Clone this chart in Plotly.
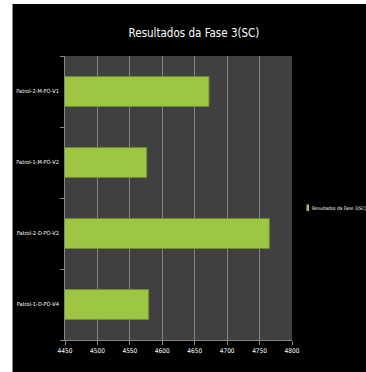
import plotly.graph_objects as go

categories = ["Patrol-1-D-PO-V4", "Patrol-2-D-PO-V2", "Patrol-1-M-PO-V2", "Patrol-2-M-PO-V1"]
values = [4579, 4765, 4576, 4672]
series_name = "Resultados da Fase 3(SC)"
x_ticks = [4450, 4500, 4550, 4600, 4650, 4700, 4750, 4800]

FONT = "DejaVu Sans Condensed, Roboto, sans-serif"
GREEN = "#9dc743"

fig = go.Figure()
fig.add_trace(go.Bar(
    y=categories, x=values, orientation="h", name=series_name,
    marker=dict(color=GREEN, line=dict(color="#6f8f2a", width=1)),
    showlegend=False,
))

W, H = 366, 372
L, R, T, B = 65, 74, 56, 32
pw, ph = W - L - R, H - T - B

def px2x(p):
    return (p - L) / pw

def py2y(p):
    return 1 - (p - T) / ph

fig.update_layout(
    width=W, height=H,
    margin=dict(l=L, r=R, t=T, b=B, autoexpand=False),
    paper_bgcolor="#000000",
    plot_bgcolor="#404040",
    bargap=0.58,
    title=dict(text=series_name, x=px2x(194), xref="paper", xanchor="center",
               y=1 - 33 / H, yanchor="middle",
               font=dict(family=FONT, size=11.5, color="#ffffff")),
    font=dict(family=FONT, color="#ffffff", size=6.5),
    xaxis=dict(range=[4450, 4800], tickvals=x_ticks, showgrid=True,
               gridcolor="#858585", gridwidth=1, zeroline=False,
               ticks="outside", ticklen=4, tickcolor="#858585",
               showline=True, linecolor="#858585",
               tickfont=dict(size=6.5, color="#ffffff")),
    yaxis=dict(type="category", categoryorder="array", categoryarray=categories,
               tickson="boundaries", ticks="outside", ticklen=4, tickcolor="#858585",
               showline=True, linecolor="#858585", showgrid=False,
               ticklabelstandoff=4,
               tickfont=dict(size=5.6, color="#ffffff")),
    showlegend=False,
    annotations=[
        dict(text=series_name, xref="paper", yref="paper", x=px2x(310), y=py2y(208),
             xanchor="left", yanchor="middle", showarrow=False,
             font=dict(family=FONT, size=4.8, color="#ffffff")),
    ],
    shapes=[
        dict(type="rect", xref="paper", yref="paper", x0=px2x(306.5), x1=px2x(309),
             y0=py2y(211), y1=py2y(204.5), fillcolor=GREEN, line=dict(width=0)),
        dict(type="rect", xref="paper", yref="paper", x0=px2x(-2), x1=px2x(12),
             y0=py2y(-2), y1=py2y(H + 2), fillcolor="#ffffff", line=dict(width=0), layer="below"),
        dict(type="rect", xref="paper", yref="paper", x0=px2x(-2), x1=px2x(W + 2),
             y0=py2y(-2), y1=py2y(4), fillcolor="#ffffff", line=dict(width=0), layer="below"),
        dict(type="line", xref="paper", yref="paper", x0=px2x(12.5), x1=px2x(12.5),
             y0=py2y(4), y1=py2y(H), line=dict(color="#888888", width=1), layer="below"),
    ],
)

fig.write_html("out.html")
